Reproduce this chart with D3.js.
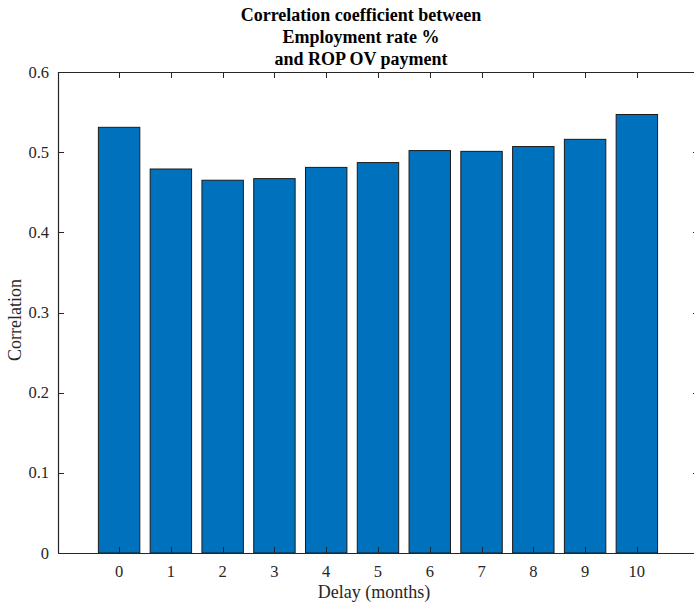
<!DOCTYPE html>
<html><head><meta charset="utf-8">
<script src="https://cdn.jsdelivr.net/npm/d3@7/dist/d3.min.js"></script>
<style>html,body{margin:0;background:#fff;overflow:hidden;} svg{display:block;overflow:hidden;}</style>
</head><body>
<script>
const categories = [0,1,2,3,4,5,6,7,8,9,10];
const values = [0.531,0.479,0.465,0.467,0.481,0.487,0.502,0.501,0.507,0.516,0.547];
const yTicks = [0,0.1,0.2,0.3,0.4,0.5,0.6];
const yTickLabels = ["0","0.1","0.2","0.3","0.4","0.5","0.6"];
const titleLines = ["Correlation coefficient between","Employment rate %","and ROP OV payment"];
const xLabel = "Delay (months)";
const yLabel = "Correlation";

const W=694,H=606;
const m={l:58,t:72,r:699,b:553};
const svg=d3.select("body").append("svg").attr("width",W).attr("height",H);
const font="'Liberation Serif','Times New Roman',serif";
const x=d3.scaleLinear().domain([-1.18,11.2]).range([m.l,m.r]);
const y=d3.scaleLinear().domain([0,0.6]).range([m.b,m.t]);
const bw=x(0.8)-x(0);
const ax="#262626";

svg.append("g").selectAll("rect").data(values).join("rect")
  .attr("x",(d,i)=>x(categories[i])-bw/2).attr("y",d=>y(d))
  .attr("width",bw).attr("height",d=>y(0)-y(d))
  .attr("fill","#0072BD").attr("stroke","#1a1a1a").attr("stroke-width",1);

const g=svg.append("g");
g.append("line").attr("x1",m.l).attr("x2",m.r).attr("y1",m.b+0.5).attr("y2",m.b+0.5).attr("stroke",ax).attr("stroke-width",1.2);
g.append("line").attr("x1",m.l).attr("x2",m.r).attr("y1",m.t+0.5).attr("y2",m.t+0.5).attr("stroke",ax).attr("stroke-width",1.2);
g.append("line").attr("x1",m.l+0.5).attr("x2",m.l+0.5).attr("y1",m.t).attr("y2",m.b).attr("stroke",ax).attr("stroke-width",1.2);

const tl=6;
categories.forEach(c=>{
  const px=Math.round(x(c))+0.5;
  g.append("line").attr("x1",px).attr("x2",px).attr("y1",m.b).attr("y2",m.b-tl).attr("stroke",ax);
  g.append("line").attr("x1",px).attr("x2",px).attr("y1",m.t).attr("y2",m.t+tl).attr("stroke",ax);
  g.append("text").attr("x",x(c)).attr("y",577).attr("text-anchor","middle")
   .attr("font-family",font).attr("font-size",16.5).attr("fill",ax).text(c);
});
yTicks.forEach((t,i)=>{
  const py=Math.round(y(t))+0.5;
  g.append("line").attr("x1",m.l).attr("x2",m.l+tl).attr("y1",py).attr("y2",py).attr("stroke",ax);
  g.append("line").attr("x1",m.r).attr("x2",m.r-tl).attr("y1",py).attr("y2",py).attr("stroke",ax);
  g.append("text").attr("x",m.l-9).attr("y",y(t)+5.5).attr("text-anchor","end")
   .attr("font-family",font).attr("font-size",16.5).attr("fill",ax).text(yTickLabels[i]);
});
svg.append("text").attr("x",374).attr("y",598).attr("text-anchor","middle")
  .attr("font-family",font).attr("font-size",18).attr("fill",ax).text(xLabel);
svg.append("text").attr("transform","translate(21,320) rotate(-90)").attr("text-anchor","middle")
  .attr("font-family",font).attr("font-size",18).attr("fill",ax).text(yLabel);
titleLines.forEach((s,i)=>{
  svg.append("text").attr("x",361).attr("y",21+i*22).attr("text-anchor","middle")
   .attr("font-family",font).attr("font-size",18).attr("font-weight","bold").attr("fill","#000").text(s);
});
</script>
</body></html>
